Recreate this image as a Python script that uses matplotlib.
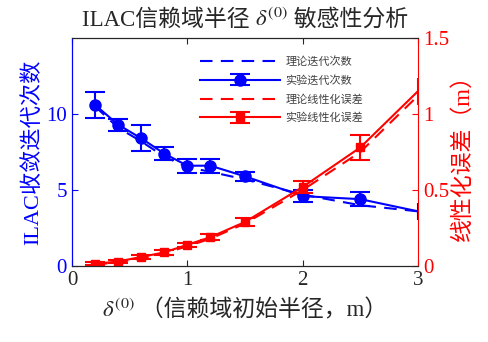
import matplotlib
matplotlib.use("Agg")
import matplotlib.pyplot as plt
from matplotlib.offsetbox import TextArea, HPacker, AnchoredOffsetbox

plt.rcParams['font.family'] = ['Liberation Serif', 'Noto Sans CJK SC']
plt.rcParams['mathtext.fontset'] = 'stix'

# dados
delta = [0.2, 0.4, 0.6, 0.8, 1.0, 1.2, 1.5, 2.0, 2.5, 3.0]
iter_teo = [10.5, 9.1, 8.2, 7.2, 6.5, 6.2, 5.7, 4.7, 4.0, 3.6]
iter_exp = [10.6, 9.3, 8.4, 7.4, 6.6, 6.6, 5.9, 4.6, 4.4, 3.6]
iter_err = [0.85, 0.4, 0.85, 0.45, 0.45, 0.45, 0.3, 0.4, 0.45, 0.55]
erro_teo = [0.01, 0.025, 0.05, 0.085, 0.13, 0.18, 0.28, 0.50, 0.75, 1.12]
erro_exp = [0.015, 0.03, 0.06, 0.09, 0.14, 0.19, 0.29, 0.52, 0.78, 1.15]
erro_err = [0.01, 0.01, 0.012, 0.015, 0.015, 0.02, 0.025, 0.04, 0.08, 0.09]

azul = '#0000ff'
verm = '#ff0000'
cinza = '#262626'


def texto_misto(partes, ax, loc, ancora, cor=cinza, tam=15):
    # junta pedaços de texto (mathtext não faz fallback para fontes CJK)
    caixas = [TextArea(p, textprops=dict(fontsize=tam, color=cor)) for p in partes]
    pacote = HPacker(children=caixas, align='baseline', pad=0, sep=0)
    ab = AnchoredOffsetbox(loc=loc, child=pacote, bbox_to_anchor=ancora,
                           bbox_transform=ax.transAxes, frameon=False,
                           pad=0, borderpad=0)
    ax.figure.add_artist(ab)


fig = plt.figure(figsize=(4.88, 3.42), dpi=100)
ax = fig.add_axes([0.1475, 0.222, 0.709, 0.667])
ax2 = ax.twinx()

l1, = ax.plot(delta, iter_teo, '--', color=azul, lw=1.5, dashes=(6, 4))
l2 = ax.errorbar(delta, iter_exp, yerr=iter_err, fmt='-o', color=azul, lw=1.5,
                 ms=8, capsize=7, capthick=1.5, elinewidth=1.5)
l3, = ax2.plot(delta, erro_teo, '--', color=verm, lw=1.5, dashes=(6, 4))
l4 = ax2.errorbar(delta, erro_exp, yerr=erro_err, fmt='-s', color=verm, lw=1.5,
                  ms=6, capsize=7, capthick=1.5, elinewidth=1.5)

# no último ponto (x = 3, na borda) só aparece a barra vertical
visiveis = list(range(len(delta) - 1))
for eb in (l2, l4):
    eb[0].set_markevery(visiveis)
    for cap in eb[1]:
        cap.set_markevery(visiveis)

ax.set_xlim(0, 3)
ax.set_ylim(0, 15)
ax2.set_ylim(0, 1.5)
ax.set_xticks([0, 1, 2, 3])
ax.set_yticks([0, 5, 10])
ax2.set_yticks([0, 0.5, 1, 1.5])
ax2.set_yticklabels(['0', '0.5', '1', '1.5'])

ax.tick_params(axis='x', direction='in', top=True, labelsize=15, colors=cinza, length=4)
ax.tick_params(axis='y', direction='in', labelsize=15, colors=azul, length=4)
ax2.tick_params(axis='y', direction='in', labelsize=15, colors=verm, length=4)

ax2.spines['left'].set_color(azul)
ax2.spines['right'].set_color(verm)
ax2.spines['top'].set_color(cinza)
ax2.spines['bottom'].set_color(cinza)
ax.spines['left'].set_color(azul)
ax.spines['right'].set_visible(False)

texto_misto(['ILAC信赖域半径 ', r'$\delta^{(0)}$', ' 敏感性分析'], ax,
            'lower center', (0.5, 1.03), tam=16.5)
texto_misto([r'$\delta^{(0)}$', ' （信赖域初始半径，m）'], ax,
            'upper center', (0.5, -0.14), tam=16.5)
ax.set_ylabel('ILAC收敛迭代次数', fontsize=16, color=azul, labelpad=2)
ax2.set_ylabel('线性化误差（m）', fontsize=16.5, color=verm, labelpad=2)

leg = ax.legend([l1, l2, l3, l4], ['理论迭代次数', '实验迭代次数', '理论线性化误差', '实验线性化误差'],
                loc='upper left', bbox_to_anchor=(0.34, 0.965), frameon=False, fontsize=8,
                handlelength=7.2, labelspacing=0.75, handletextpad=0.5)
for t in leg.get_texts():
    t.set_color('#404040')

fig.savefig('out.png', dpi=100)
